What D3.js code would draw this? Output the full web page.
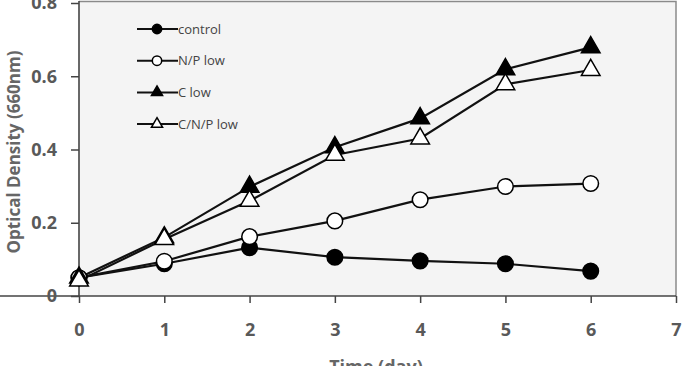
<!DOCTYPE html>
<html><head><meta charset="utf-8">
<script src="https://cdn.jsdelivr.net/npm/d3@7"></script>
<style>body{margin:0;background:#fff;}svg{display:block;}</style>
</head><body>
<script>
const days = [0, 1, 2, 3, 4, 5, 6];
const control = [0.05, 0.088, 0.132, 0.106, 0.096, 0.088, 0.068];
const npLow = [0.05, 0.095, 0.162, 0.205, 0.263, 0.299, 0.307];
const cLow = [0.05, 0.16, 0.298, 0.406, 0.485, 0.619, 0.679];
const cnpLow = [0.042, 0.155, 0.26, 0.385, 0.43, 0.578, 0.617];
const seriesNames = ["control", "N/P low", "C low", "C/N/P low"];
const xTicks = [0, 1, 2, 3, 4, 5, 6, 7];
const yTicks = [0, 0.2, 0.4, 0.6, 0.8];

(function () {
const W = 687, H = 366;
const pLeft = 79, pRight = 676, pTop = 3, pBottom = 296;
const svg = d3.select("body").append("svg").attr("width", W).attr("height", H);
const x = d3.scaleLinear().domain([0, 7]).range([pLeft, pRight]);
const y = d3.scaleLinear().domain([0, 0.8]).range([pBottom, pTop]);

svg.append("rect").attr("x", pLeft).attr("y", 1).attr("width", pRight - pLeft).attr("height", pBottom - 1)
  .attr("fill", "#f4f4f4");
svg.append("path").attr("d", `M${pLeft},1.5H${pRight}V${pBottom}`).attr("fill", "none")
  .attr("stroke", "#8a8a8a").attr("stroke-width", 1.5);

const xAxis = svg.append("g").attr("transform", `translate(0,${pBottom})`)
  .call(d3.axisBottom(x).tickValues(xTicks).tickFormat(d3.format("d")).tickSize(7).tickPadding(20));
const yAxis = svg.append("g").attr("transform", `translate(${pLeft},0)`)
  .call(d3.axisLeft(y).tickValues(yTicks).tickFormat(d => d === 0 ? "0" : d3.format(".1f")(d)).tickSize(8).tickPadding(14));
[xAxis, yAxis].forEach(g => {
  g.select(".domain").attr("stroke", "#444").attr("stroke-width", 1.6);
  g.selectAll(".tick line").attr("stroke", "#444").attr("stroke-width", 1.5);
  g.selectAll(".tick text").attr("fill", "#595959").attr("font-family", "'Open Sans', sans-serif")
    .attr("font-weight", "bold").attr("font-size", 18);
});
yAxis.select(".domain").attr("d", `M0,${pBottom}V1`);
xAxis.select(".domain").attr("d", `M0,0H${pRight}`);

svg.append("text").attr("transform", `translate(20,152) rotate(-90)`).attr("text-anchor", "middle")
  .attr("font-family", "'Open Sans', sans-serif").attr("font-weight", "bold").attr("font-size", 17)
  .attr("fill", "#666").text("Optical Density (660nm)");
svg.append("text").attr("x", 376).attr("y", 373).attr("text-anchor", "middle")
  .attr("font-family", "'Open Sans', sans-serif").attr("font-weight", "bold").attr("font-size", 18)
  .attr("fill", "#666").text("Time (day)");

const series = [
  {name: seriesNames[0], vals: control, shape: "circle", fill: "#000"},
  {name: seriesNames[1], vals: npLow, shape: "circle", fill: "#fff"},
  {name: seriesNames[2], vals: cLow, shape: "triangle", fill: "#000"},
  {name: seriesNames[3], vals: cnpLow, shape: "triangle", fill: "#fff"}
];
const line = d3.line().x((d, i) => x(days[i])).y(d => y(d));
function marker(g, s, cx, cy, scale) {
  if (s.shape === "circle") {
    g.append("circle").attr("cx", cx).attr("cy", cy).attr("r", 7.8 * scale)
      .attr("fill", s.fill).attr("stroke", "#000").attr("stroke-width", 1.5);
  } else {
    g.append("path").attr("transform", `translate(${cx},${cy}) scale(${scale})`)
      .attr("d", d3.symbol().type(d3.symbolTriangle).size(150)())
      .attr("fill", s.fill).attr("stroke", "#000").attr("stroke-width", 1.5 / scale);
  }
}
series.forEach(s => {
  svg.append("path").attr("d", line(s.vals)).attr("fill", "none").attr("stroke", "#111").attr("stroke-width", 2.2);
});
series.forEach(s => {
  const g = svg.append("g");
  s.vals.forEach((v, i) => marker(g, s, x(days[i]), y(v), 1));
});

const lg = svg.append("g");
series.forEach((s, i) => {
  const ly = 29 + i * 31.7;
  lg.append("line").attr("x1", 137).attr("x2", 178).attr("y1", ly).attr("y2", ly).attr("stroke", "#111").attr("stroke-width", 2);
  marker(lg, s, 157, ly, 0.6);
  lg.append("text").attr("x", 178).attr("y", ly + 4.5).attr("font-family", "'Open Sans', sans-serif")
    .attr("font-size", 13).attr("fill", "#444").text(s.name);
});
})();
</script>
</body></html>
